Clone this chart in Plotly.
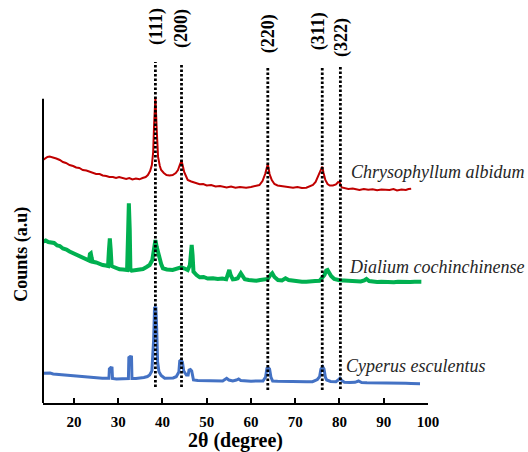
import plotly.graph_objects as go

# ---------------- data (2θ in degrees, intensity in arbitrary units) ----------------
red_x = [13.0, 13.5, 14.0, 14.5, 15.0, 15.5, 16.0, 16.8, 17.5, 18.2, 19.0, 19.8, 20.5, 21.2, 22.0, 22.8,
         23.5, 24.3, 25.0, 25.8, 26.5, 27.3, 28.0, 28.8, 29.5, 30.2, 31.0, 31.8, 32.5, 33.2, 34.0, 34.8,
         35.5, 36.2, 36.7, 37.2, 37.6, 37.9, 38.1, 38.4, 38.7, 39.0, 39.4, 39.7, 40.3, 40.9, 41.6, 42.3,
         43.0, 43.5, 43.9, 44.3, 44.6, 44.9, 45.3, 45.7, 46.5, 47.4, 48.4, 49.2, 50.0, 51.0, 52.0, 53.0,
         53.6, 54.5, 55.5, 56.5, 57.5, 58.9, 60.0, 61.0, 61.9, 62.6, 63.2, 63.8, 64.2, 64.7, 65.3, 66.0,
         67.0, 68.0, 68.7, 69.5, 70.5, 71.5, 72.5, 73.3, 74.0, 74.6, 75.2, 75.7, 76.1, 76.4, 76.8, 77.3,
         77.8, 78.5, 79.2, 79.7, 80.1, 80.5, 81.2, 82.0, 83.0, 83.7, 84.5, 85.5, 86.5, 87.5, 88.5, 89.5,
         90.5, 91.3, 92.2, 93.0, 94.0, 95.0, 95.6, 96.2]
red_y = [243, 245, 246, 246.5, 246, 245.5, 244.5, 243, 241, 240, 238, 237, 235.5, 235, 233, 232.5,
         231.3, 230.5, 229, 229, 227.5, 227, 226, 226, 225, 226, 224.7, 224, 225, 223.5, 224.5, 223.7,
         225, 226, 228, 232, 238, 251, 278, 306, 273, 246, 237, 233, 230, 228, 227.5, 228,
         230, 233, 238, 242.3, 237, 231, 227, 223, 221.5, 220, 218.7, 219, 217.5, 218, 216.5, 217,
         216.3, 215.5, 216.5, 215.2, 216, 215.3, 216, 217, 218, 222, 229, 239, 229, 223, 219, 217.5,
         217, 216, 216.3, 215.2, 216, 215, 215.3, 216.5, 218, 221, 227, 233, 236.3, 230, 223, 219,
         217.5, 217.5, 218.5, 221, 220, 215.5, 214.5, 214, 214.5, 213.7, 213, 214, 213.2, 213.7, 212.7, 213.5,
         213, 213, 214, 212.5, 213.5, 213, 214, 214.3]

green_x = [13.0, 13.6, 14.2, 14.9, 15.5, 16.2, 16.8, 17.5, 18.3, 19.0, 19.8, 20.6, 21.4, 22.1, 22.8, 23.4,
           23.6, 23.8, 24.0, 24.2, 25.0, 25.8, 26.5, 27.2, 27.7, 27.9, 28.1, 28.3, 28.5, 29.0, 29.7, 30.3,
           31.1, 31.8, 32.0, 32.25, 32.4, 32.6, 32.75, 33.0, 33.8, 34.8, 35.6, 36.4, 37.1, 37.7, 38.1, 38.4,
           38.7, 39.2, 39.7, 40.1, 41.0, 42.3, 43.2, 44.2, 45.0, 45.7, 46.2, 46.4, 46.6, 46.8, 47.0, 47.7,
           48.4, 49.3, 50.2, 51.4, 52.5, 53.5, 54.4, 54.8, 55.1, 55.4, 55.9, 56.5, 57.0, 57.7, 58.2, 58.6,
           59.5, 60.4, 61.2, 62.1, 63.0, 63.8, 64.4, 64.8, 65.3, 66.1, 67.0, 67.8, 68.5, 69.4, 70.5, 71.5,
           72.5, 73.5, 74.5, 75.5, 76.2, 76.6, 77.0, 77.3, 77.7, 78.1, 78.8, 79.4, 80.0, 81.0, 82.0, 83.0,
           83.7, 84.8, 85.6, 86.1, 86.7, 87.5, 88.5, 89.5, 90.4, 91.3, 92.3, 93.2, 94.1, 95.0, 96.0, 97.0,
           98.0, 98.5]
green_y = [161.3, 162.5, 161, 160.3, 160, 157.5, 157, 154.5, 153.5, 151.5, 149.7, 148.5, 146, 145, 143, 142.5,
           149, 149.7, 145, 141.3, 140.5, 139, 138, 137.5, 137, 153, 164.7, 153, 137, 136, 134.5, 133.7,
           133.5, 133, 133, 173, 199.7, 173, 133, 132.3, 133, 133, 134, 136, 138, 143, 153, 163,
           156, 146.3, 139, 134.7, 133.5, 133, 134, 135.7, 134.5, 133, 138, 153, 158, 148, 131.3, 128,
           125.7, 126, 124.5, 124.7, 124, 124.5, 123.7, 129, 133, 128, 123.7, 124, 124.7, 129.7, 126, 123.7,
           123, 122.5, 122.3, 123, 123, 124, 128, 129.7, 126, 123, 122.5, 124.7, 123, 122.3, 122, 121.3,
           121.3, 122, 122, 122.3, 126, 128, 132.5, 133, 130, 127, 124, 123, 122.8, 122.5, 122, 121.8,
           121.5, 121.5, 122.5, 124, 122, 121.2, 121, 121.2, 120.8, 121, 120.7, 121.3, 121, 121.2, 121, 121.3,
           121, 121.2]

blue_x = [13.0, 13.8, 14.6, 15.3, 16.0, 17.0, 18.0, 19.0, 19.8, 20.8, 21.8, 22.7, 23.5, 24.5, 25.5, 26.4,
          27.3, 27.9, 28.0, 28.3, 28.6, 28.7, 29.6, 30.6, 31.6, 32.3, 32.4, 32.7, 33.0, 33.1, 34.0, 34.8,
          35.8, 36.6, 37.1, 37.6, 38.0, 38.2, 38.5, 38.7, 38.9, 39.2, 39.7, 40.5, 41.5, 42.4, 43.1, 43.7,
          43.9, 44.2, 44.5, 44.8, 45.4, 45.8, 46.0, 46.3, 46.6, 46.8, 47.0, 48.0, 49.0, 49.9, 51.0, 52.3,
          53.6, 54.1, 54.5, 55.0, 55.9, 56.7, 57.2, 57.7, 58.9, 60.0, 61.5, 62.7, 63.3, 63.6, 63.9, 64.2,
          64.5, 64.9, 66.0, 67.3, 68.7, 70.0, 71.3, 72.6, 73.9, 75.0, 75.5, 75.8, 76.2, 76.5, 76.8, 77.1,
          78.0, 79.2, 79.7, 80.1, 80.5, 81.1, 82.3, 83.5, 84.3, 85.0, 86.2, 87.5, 88.8, 90.0, 91.3, 92.5,
          93.8, 95.0, 96.2, 97.3, 98.2]
blue_y = [29.7, 29.5, 30, 29, 28.7, 28.5, 27.7, 27.7, 27.3, 26.7, 26.5, 26, 25.7, 25.2, 25.2, 24.7,
          24.7, 24.7, 34, 35.3, 35, 24.5, 24, 24, 24.2, 24.5, 45.5, 46.3, 46, 24.5, 24.5, 24.7,
          25.5, 26.5, 28, 32, 63, 95, 96.3, 73, 41, 31.3, 27.5, 24.7, 24.5, 25, 26.3, 31,
          42, 43, 41, 32, 28, 28, 33, 33.5, 32, 25, 23, 22.5, 22.5, 22.3, 22, 22.2,
          22, 23.5, 24.7, 23, 22, 23, 24, 22.5, 22, 21.8, 22, 22, 26, 34.5, 35.3, 34,
          26, 22, 21.7, 21.5, 21.3, 21.5, 21.3, 21.2, 21.3, 23.5, 26.3, 34, 36.3, 34, 26, 23,
          21.5, 21.3, 23, 24.7, 22.5, 20.7, 20.5, 20.7, 22, 20.5, 20.3, 20.3, 20, 20.2, 19.8, 20,
          19.7, 19.7, 19.5, 19.5, 19.3]

series_names = ["Chrysophyllum albidum", "Dialium cochinchinense", "Cyperus esculentus"]

peak_pos = [38.4, 44.3, 63.8, 76.1, 80.2]
peak_labels = ["(111)", "(200)", "(220)", "(311)", "(322)"]

x_ticks = [20, 30, 40, 50, 60, 70, 80, 90, 100]

# ---------------- styling ----------------
SERIF = "Liberation Serif"
colors = ["#C00000", "#00B050", "#4472C4"]
widths = [2, 4, 3]

fig = go.Figure()
for xs, ys, c, w, n in zip([red_x, green_x, blue_x], [red_y, green_y, blue_y], colors, widths, series_names):
    fig.add_trace(go.Scatter(x=xs, y=ys, mode="lines", name=n,
                             line=dict(color=c, width=w, shape="linear"), showlegend=False))

line_top = [341, 340, 336, 337, 337]
line_bot = [16, 16, 13, 13, 14]
label_bottom = [356, 353, 348, 351, 344]
label_shift = [1, 0, 1, -4, 1]

for px, lab, t, b, lb, sh in zip(peak_pos, peak_labels, line_top, line_bot, label_bottom, label_shift):
    fig.add_shape(type="line", xref="x", yref="y", x0=px, x1=px, y0=b, y1=t,
                  line=dict(color="black", width=2.8, dash="2.5px,2px"), layer="above")
    fig.add_annotation(x=px, y=lb, xref="x", yref="y", text=lab, showarrow=False,
                       textangle=-90, xanchor="center", yanchor="bottom", xshift=sh,
                       font=dict(family=SERIF, size=18, color="black", weight="bold"))

# species labels
label_x = [82.2, 81.8, 81.1]
label_y = [231, 136, 37]
for n, lx, ly in zip(series_names, label_x, label_y):
    fig.add_annotation(x=lx, y=ly, xref="x", yref="y", text=n, showarrow=False,
                       xanchor="left", yanchor="middle",
                       font=dict(family=SERIF, size=18, color="#262626", style="italic"))

# y axis line (partial height) and title
fig.add_shape(type="line", xref="paper", yref="paper", x0=0, x1=0, y0=0, y1=0.755,
              line=dict(color="black", width=2))
fig.add_annotation(x=-0.055, y=0.37, xref="paper", yref="paper", text="Counts (a.u)",
                   showarrow=False, textangle=-90, xanchor="center", yanchor="middle",
                   font=dict(family=SERIF, size=18, color="black", weight="bold"))

fig.update_layout(
    width=528, height=452,
    margin=dict(l=43, r=100, t=0, b=49),
    paper_bgcolor="white", plot_bgcolor="white",
    xaxis=dict(range=[13, 100], tickvals=x_ticks, ticks="inside", ticklen=5, tickwidth=1.5,
               tickcolor="black", showline=True, linecolor="black", linewidth=1.5,
               showgrid=False, zeroline=False, ticklabelstandoff=4,
               tickfont=dict(family=SERIF, size=15, color="black", weight="bold"),
               title=dict(text="2θ (degree)", standoff=7,
                          font=dict(family=SERIF, size=20, color="black", weight="bold"))),
    yaxis=dict(range=[0, 403], visible=False),
)

fig.write_html("out.html", config={"displayModeBar": False},
               post_script="document.body.style.margin='0px';document.body.style.padding='0px';")
